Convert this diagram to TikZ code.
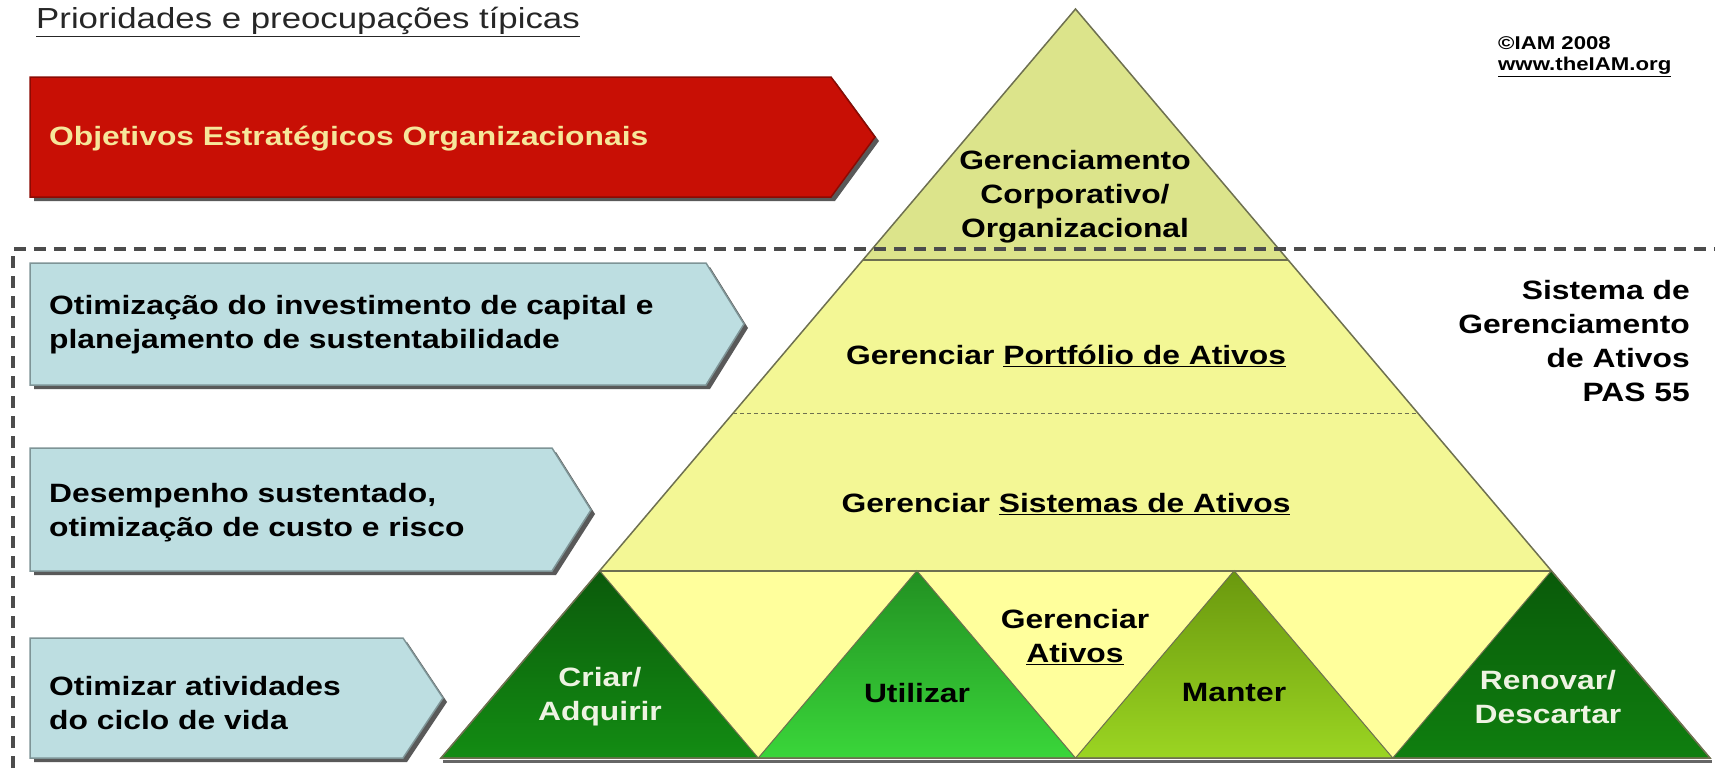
\documentclass[tikz,border=0pt]{standalone}
\usepackage{fontspec}
\setmainfont{Liberation Sans}
\newfontfamily\widefont[FakeStretch=1.2]{Liberation Sans}
\usetikzlibrary{calc,shadows}

\definecolor{redbox}{HTML}{C80F05}
\definecolor{redtext}{HTML}{F6E69A}
\definecolor{bluebox}{HTML}{BDDEE1}
\definecolor{blueline}{HTML}{7E9496}
\definecolor{topyel}{HTML}{DCE48B}
\definecolor{midyel}{HTML}{F3F795}
\definecolor{lowyel}{HTML}{FFFF9C}
\definecolor{pyrline}{HTML}{6E7050}
\definecolor{crA}{HTML}{0B5A0B}
\definecolor{crB}{HTML}{138C13}
\definecolor{utA}{HTML}{229022}
\definecolor{utB}{HTML}{3AD63A}
\definecolor{mnA}{HTML}{6A980E}
\definecolor{mnB}{HTML}{9BD522}
\definecolor{rnA}{HTML}{0A5A0A}
\definecolor{rnB}{HTML}{0F7F0F}
\definecolor{lighttext}{HTML}{EEF3E2}

\newcommand\boxfont{\widefont\bfseries\fontsize{26.5}{34}\selectfont}
\newcommand\titlefont{\widefont\fontsize{29}{32}\selectfont}
\newcommand\iamfont{\widefont\bfseries\fontsize{18.5}{21}\selectfont}

\tikzset{
  prio/.style={draw=blueline, line width=1.5, fill=bluebox,
    drop shadow={shadow xshift=4pt, shadow yshift=-4pt, fill=black!65, opacity=1}},
  frame/.style={draw=black!70, line width=3.5, dash pattern=on 12pt off 8pt},
  layer/.style={draw=pyrline, line width=1.5}
}

\begin{document}
\begin{tikzpicture}[x=1pt, y=-1pt, every node/.style={inner sep=0pt}]
\useasboundingbox (0,0) rectangle (1715,768);

% title and source
\node[anchor=west, font=\titlefont, text=black!85] (title) at (36,22) {\underline{Prioridades e preocupações típicas}};
\node[anchor=west, align=left, font=\iamfont] (iam) at (1498,57) {©IAM 2008\\\underline{www.theIAM.org}};

% priority arrows
\draw[prio, fill=redbox, draw=redbox!70!black] (30,77) -- (831,77) -- (875,137) -- (831,197) -- (30,197) -- cycle;
\draw[prio] (30,263) -- (706,263) -- (744,324) -- (706,385) -- (30,385) -- cycle;
\draw[prio] (30,448) -- (552,448) -- (591,510) -- (552,571) -- (30,571) -- cycle;
\draw[prio] (30,638) -- (403,638) -- (443,698) -- (403,758) -- (30,758) -- cycle;
\node[anchor=west, font=\boxfont, text=redtext] (objetivos) at (49,139) {Objetivos Estratégicos Organizacionais};
\node[anchor=west, align=left, font=\boxfont] (capital) at (49,325) {Otimização do investimento de capital e\\planejamento de sustentabilidade};
\node[anchor=west, align=left, font=\boxfont] (desempenho) at (49,513) {Desempenho sustentado,\\otimização de custo e risco};
\node[anchor=west, align=left, font=\boxfont] (ciclo) at (49,703) {Otimizar atividades\\do ciclo de vida};

% pyramid
\coordinate (apex) at (1075.5,9);
\coordinate (bl) at (441,758);
\coordinate (br) at (1710,758);
\foreach \n/\t in {1/0.335, 2/0.54, 3/0.75} {
  \coordinate (l\n) at ($(apex)!\t!(bl)$);
  \coordinate (r\n) at ($(apex)!\t!(br)$);
}
\draw[black!60, line width=3] ($(bl)+(2,3)$) -- ($(br)+(2,3)$); % base shadow
\fill[topyel] (apex) -- (r1) -- (l1) -- cycle;
\fill[midyel] (l1) -- (r1) -- (r3) -- (l3) -- cycle;
\fill[lowyel] (l3) -- (r3) -- (br) -- (bl) -- cycle;
\foreach \i/\j/\ca/\cb in {0/1/crA/crB, 1/2/utA/utB, 2/3/mnA/mnB, 3/4/rnA/rnB} {
  \shade[top color=\ca, bottom color=\cb, draw=pyrline, line width=1]
    ($(l3)!\i/3!(r3)$) -- ($(bl)!\j/4!(br)$) -- ($(bl)!\i/4!(br)$) -- cycle;
}
\draw[layer] (l1) -- (r1);
\draw[layer, line width=1, dash pattern=on 4pt off 3pt] (l2) -- (r2);
\draw[layer] (l3) -- (r3);
\draw[layer] (apex) -- (br) -- (bl) -- cycle;

\node[align=center, font=\boxfont] (corp) at (1075,197) {Gerenciamento\\Corporativo/\\Organizacional};
\node[font=\boxfont] (portfolio) at (1066,356) {Gerenciar \underline{Portfólio de Ativos}};
\node[font=\boxfont] (sistemas) at (1066,504) {Gerenciar \underline{Sistemas de Ativos}};
\node[align=center, font=\boxfont] (ativos) at (1075,637) {Gerenciar\\\underline{Ativos}};
\node[align=center, font=\boxfont, text=lighttext] (criar) at (600,697) {Criar/\\Adquirir};
\node[font=\boxfont] (utilizar) at (917,693) {Utilizar};
\node[font=\boxfont] (manter) at (1234,693) {Manter};
\node[align=center, font=\boxfont, text=lighttext] (renovar) at (1548,697) {Renovar/\\Descartar};
\node[anchor=east, align=right, font=\boxfont] (pas) at (1690,341) {Sistema de\\Gerenciamento\\de Ativos\\PAS 55};

% asset management system frame
\draw[frame] (13,768) -- (13,249) -- (1715,249);
\end{tikzpicture}
\end{document}
